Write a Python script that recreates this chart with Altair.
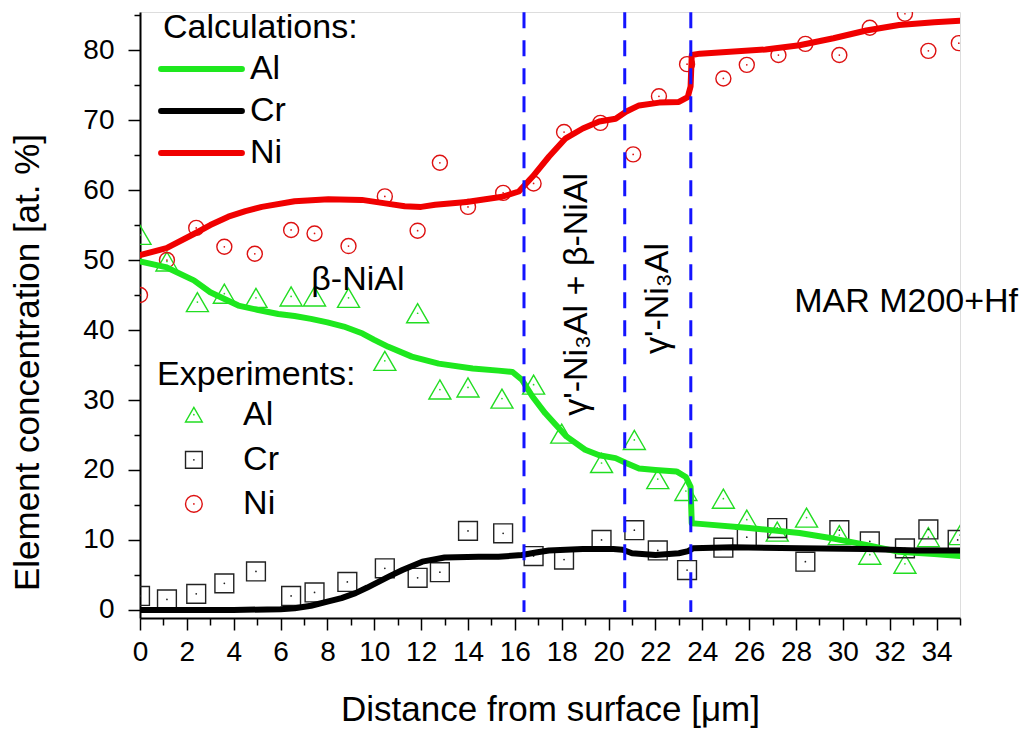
import altair as alt
import pandas as pd

FONT = "Liberation Sans"
elements = ["Al", "Cr", "Ni"]

# ---------------- calculated profiles (lines) ----------------
calc_al_x = [0, 1.1, 2.3, 3.0, 3.7, 4.2, 5.0, 5.9, 6.6, 7.3, 8.0, 8.7, 9.5, 10.0, 10.6, 11.6, 12.75,
             14.2, 15.3, 15.9, 16.3, 16.75, 17.3, 18.2, 19.0, 19.6, 20.3, 20.75, 21.3, 22.0, 22.9,
             23.3, 23.5, 23.55, 23.9, 26.0, 28.15, 29.6, 31.0, 32.4, 33.9, 35.0]
calc_al_y = [49.8, 49.0, 47.1, 45.4, 44.3, 43.5, 42.9, 42.3, 42.0, 41.6, 41.1, 40.5, 39.5, 38.6, 37.6,
             36.2, 35.2, 34.5, 34.2, 34.0, 32.9, 30.5, 28.1, 24.8, 22.9, 22.1, 21.7, 21.0, 20.2, 20.0,
             19.8, 19.0, 17.6, 12.4, 12.3, 11.7, 11.0, 10.2, 9.3, 8.3, 8.0, 7.7]

calc_cr_x = [0, 2, 4, 6, 6.6, 7.3, 8.0, 8.6, 9.2, 9.7, 10.2, 10.7, 11.2, 12.05, 13.0, 14.46, 15.3,
             16.3, 16.9, 17.45, 18.9, 20.2, 20.6, 21.0, 22.0, 23.0, 23.4, 23.6, 25.3, 28.15, 31.0,
             33.15, 35.0]
calc_cr_y = [0, 0, 0, 0.1, 0.25, 0.6, 1.2, 1.7, 2.4, 3.2, 4.05, 4.9, 5.7, 6.9, 7.5, 7.6, 7.6, 7.85,
             8.2, 8.5, 8.7, 8.7, 8.6, 8.1, 7.85, 8.1, 8.4, 8.8, 8.96, 8.8, 8.7, 8.5, 8.5]

calc_ni_x = [0, 1.13, 2.34, 3.0, 3.77, 4.5, 5.2, 6.6, 8.04, 9.47, 10.47, 11.3, 12.0, 12.6, 13.94,
             15.46, 16.17, 16.75, 17.46, 18.17, 18.9, 19.6, 20.3, 20.74, 21.3, 22.16, 23.0, 23.38,
             23.5, 23.55, 23.9, 26.7, 28.15, 29.6, 31.0, 32.4, 33.9, 35.0]
calc_ni_y = [50.7, 51.7, 53.8, 55.0, 56.2, 57.0, 57.6, 58.4, 58.7, 58.6, 58.1, 57.7, 57.6, 57.9,
             58.3, 59.05, 59.8, 61.9, 64.8, 67.4, 68.8, 69.8, 70.2, 71.2, 72.1, 72.5, 72.6, 73.3,
             74.8, 79.3, 79.5, 80.1, 80.7, 81.7, 82.8, 83.6, 84.0, 84.2]

# ---------------- experimental points ----------------
exp_al_x = [0, 1.15, 2.45, 3.6, 4.95, 6.45, 7.45, 8.9, 10.45, 11.85, 12.8, 14.0, 15.45, 16.8, 18.0,
            19.7, 21.1, 22.1, 23.3, 24.9, 25.9, 27.2, 28.45, 29.85, 31.15, 32.65, 33.65, 35.0]
exp_al_y = [53.6, 49.8, 44.0, 45.2, 44.6, 44.8, 44.8, 44.6, 35.6, 42.4, 31.5, 31.8, 30.2, 32.2,
            25.2, 21.0, 24.3, 18.7, 17.0, 15.9, 12.9, 11.2, 13.2, 10.7, 7.9, 6.6, 10.4, 10.7]

exp_cr_x = [0, 1.15, 2.4, 3.6, 4.95, 6.45, 7.45, 8.85, 10.45, 11.85, 12.8, 14.0, 15.5, 16.8, 18.1,
            19.7, 21.1, 22.1, 23.35, 24.9, 25.9, 27.2, 28.4, 29.85, 31.15, 32.65, 33.65, 34.9]
exp_cr_y = [2.0, 1.5, 2.3, 3.8, 5.5, 2.0, 2.5, 4.0, 5.95, 4.6, 5.4, 11.3, 10.95, 7.7, 7.2, 10.0,
            11.4, 8.5, 5.7, 8.9, 10.4, 11.7, 6.9, 11.4, 9.8, 8.8, 11.5, 10.0]

exp_ni_x = [0, 1.15, 2.4, 3.6, 4.9, 6.45, 7.45, 8.9, 10.45, 11.85, 12.8, 14.0, 15.5, 16.8, 18.1,
            19.65, 21.05, 22.15, 23.35, 24.9, 25.9, 27.25, 28.4, 29.85, 31.15, 32.65, 33.65, 34.95]
exp_ni_y = [45.0, 50.0, 54.6, 51.9, 50.9, 54.3, 53.8, 52.0, 59.1, 54.2, 63.9, 57.6, 59.6, 60.95,
            68.3, 69.6, 65.1, 73.4, 78.0, 75.95, 77.9, 79.3, 80.9, 79.3, 83.2, 85.2, 79.9, 81.0]

# phase boundaries (dashed lines)
phase_bounds = [16.39, 20.69, 23.51]

# annotations
annot_h_text = ["β-NiAl", "MAR M200+Hf"]
annot_h_x = [9.3, 32.7]
annot_h_y = [47.1, 44.0]
annot_v_text = ["γ'-Ni₃Al + β-NiAl", "γ'-Ni₃Al"]
annot_v_x = [18.65, 22.1]
annot_v_y = [45.1, 44.5]

# in-plot legend layout (data coordinates)
leg_titles = ["Calculations:", "Experiments:"]
leg_title_x = [0.98, 0.73]
leg_title_y = [83.1, 33.6]
leg_line_x1 = 0.90
leg_line_x2 = 4.35
leg_line_y = [77.3, 71.3, 65.3]
leg_line_label_x = 4.69
leg_sym_x = 2.30
leg_sym_y = [27.9, 21.45, 15.15]
leg_sym_label_x = 4.40

x_major = list(range(0, 36, 2))
x_minor = list(range(1, 36, 2))
y_major = list(range(0, 81, 10))
y_minor = list(range(5, 86, 10))

calc_colors = ["#1ee81e", "#000000", "#f00000"]
exp_colors = ["#22dd22", "#222222", "#dd1111"]
exp_shapes = ["triangle-up", "square", "circle"]
exp_sizes = [484, 225, 324]


def frame(xs, ys, name, col):
    return pd.DataFrame({"x": xs, "y": ys, col: name, "i": list(range(len(xs)))})


calc_df = pd.concat([frame(calc_al_x, calc_al_y, "Al", "calc"),
                     frame(calc_cr_x, calc_cr_y, "Cr", "calc"),
                     frame(calc_ni_x, calc_ni_y, "Ni", "calc")], ignore_index=True)
exp_df = pd.concat([frame(exp_al_x, exp_al_y, "Al", "exp"),
                    frame(exp_cr_x, exp_cr_y, "Cr", "exp"),
                    frame(exp_ni_x, exp_ni_y, "Ni", "exp")], ignore_index=True)
vline_df = pd.DataFrame({"x": phase_bounds})
annot_h_df = pd.DataFrame({"x": annot_h_x, "y": annot_h_y, "t": annot_h_text})
annot_v_df = pd.DataFrame({"x": annot_v_x, "y": annot_v_y, "t": annot_v_text})

leg_title_df = pd.DataFrame({"x": leg_title_x, "y": leg_title_y, "t": leg_titles})
leg_line_df = pd.DataFrame({"x": [leg_line_x1] * 3, "x2": [leg_line_x2] * 3, "y": leg_line_y,
                            "calc": elements})
leg_line_lab_df = pd.DataFrame({"x": [leg_line_label_x] * 3, "y": leg_line_y, "t": elements})
leg_sym_df = pd.DataFrame({"x": [leg_sym_x] * 3, "y": leg_sym_y, "exp": elements})
leg_sym_lab_df = pd.DataFrame({"x": [leg_sym_label_x] * 3, "y": leg_sym_y, "t": elements})
minor_df = pd.DataFrame({"x": [1.0], "y": [5.0]})

x_scale = alt.Scale(domain=[0, 35], nice=False, zero=False)
y_scale = alt.Scale(domain=[-1.15, 85.45], nice=False, zero=False)

axis_common = dict(grid=False, domainColor="black", domainWidth=2, tickColor="black", tickWidth=1.5,
                   labelFont=FONT, labelColor="black", labelFontSize=28,
                   labelOverlap=False, labelFlush=False)

x_axis = alt.Axis(
    values=x_major, tickSize=12, labelPadding=8, orient="bottom",
    title="Distance from surface [μm]", titleFontSize=35, titleFont=FONT,
    titleFontWeight="normal", titleColor="black", titleX=410, titleY=91,
    titleAlign="center", titleBaseline="middle", **axis_common,
)
y_axis = alt.Axis(
    values=y_major, tickSize=12, labelPadding=14, orient="left",
    title="Element concentration [at. %]", titleFontSize=35, titleFont=FONT,
    titleFontWeight="normal", titleColor="black", titleX=-113, titleY=350,
    titleAngle=270, titleAlign="center", titleBaseline="middle", **axis_common,
)
x_axis_minor = alt.Axis(values=x_minor, tickSize=7, labels=False, domain=False, title=None,
                        orient="bottom", grid=False, tickColor="black", tickWidth=1.5)
y_axis_minor = alt.Axis(values=y_minor, tickSize=6, labels=False, domain=False, title=None,
                        orient="left", grid=False, tickColor="black", tickWidth=1.5)

Xn = alt.X("x:Q", scale=x_scale, axis=None)
Yn = alt.Y("y:Q", scale=y_scale, axis=None)

stroke_enc = alt.Stroke("exp:N", scale=alt.Scale(domain=elements, range=exp_colors), legend=None)
shape_enc = alt.Shape("exp:N", scale=alt.Scale(domain=elements, range=exp_shapes), legend=None)
fill_enc = alt.Fill("exp:N", scale=alt.Scale(domain=elements, range=exp_colors), legend=None)
color_enc = alt.Color("calc:N", scale=alt.Scale(domain=elements, range=calc_colors), legend=None)

points = alt.Chart(exp_df).mark_point(filled=False, strokeWidth=1.4, clip=True, opacity=1).encode(
    x=Xn, y=Yn, stroke=stroke_enc, shape=shape_enc,
    size=alt.Size("exp:N", scale=alt.Scale(domain=elements, range=exp_sizes), legend=None),
)

dots = alt.Chart(exp_df).mark_point(filled=True, size=3, shape="circle", clip=True, opacity=1).encode(
    x=Xn, y=Yn, fill=fill_enc,
)

lines = alt.Chart(calc_df).mark_line(strokeWidth=6, clip=True, strokeJoin="round", strokeCap="round").encode(
    x=alt.X("x:Q", scale=x_scale, axis=x_axis),
    y=alt.Y("y:Q", scale=y_scale, axis=y_axis),
    color=color_enc,
    order="i:Q",
)

minor = alt.Chart(minor_df).mark_point(opacity=0).encode(
    x=alt.X("x:Q", scale=x_scale, axis=x_axis_minor),
    y=alt.Y("y:Q", scale=y_scale, axis=y_axis_minor),
)

vlines = alt.Chart(vline_df).mark_rule(color="#1414ff", strokeWidth=3, strokeDash=[16, 12]).encode(
    x=Xn, y=alt.YDatum(85.4, axis=None), y2=alt.Y2Datum(-0.3),
)

text_h = alt.Chart(annot_h_df).mark_text(fontSize=34, font=FONT, color="black",
                                         align="center", baseline="middle").encode(
    x=Xn, y=Yn, text="t:N")

text_v = alt.Chart(annot_v_df).mark_text(fontSize=34, font=FONT, color="black", angle=270,
                                         align="center", baseline="middle").encode(
    x=Xn, y=Yn, text="t:N")

leg_titles_l = alt.Chart(leg_title_df).mark_text(fontSize=34, font=FONT, color="black",
                                                 align="left", baseline="middle").encode(
    x=Xn, y=Yn, text="t:N")
leg_lines_l = alt.Chart(leg_line_df).mark_rule(strokeWidth=6, strokeCap="round").encode(
    x=Xn, x2="x2:Q", y=Yn, color=color_enc)
leg_line_lab_l = alt.Chart(leg_line_lab_df).mark_text(fontSize=34, font=FONT, color="black",
                                                      align="left", baseline="middle").encode(
    x=Xn, y=Yn, text="t:N")
leg_sym_l = alt.Chart(leg_sym_df).mark_point(filled=False, strokeWidth=1.4, size=280, opacity=1).encode(
    x=Xn, y=Yn, stroke=stroke_enc, shape=shape_enc)
leg_sym_dot_l = alt.Chart(leg_sym_df).mark_point(filled=True, size=3, shape="circle", opacity=1).encode(
    x=Xn, y=Yn, fill=fill_enc)
leg_sym_lab_l = alt.Chart(leg_sym_lab_df).mark_text(fontSize=34, font=FONT, color="black",
                                                    align="left", baseline="middle").encode(
    x=Xn, y=Yn, text="t:N")

chart = alt.layer(
    points, dots, lines, minor, vlines, text_h, text_v,
    leg_titles_l, leg_lines_l, leg_line_lab_l, leg_sym_l, leg_sym_dot_l, leg_sym_lab_l,
).resolve_axis(x="independent", y="independent").properties(
    width=820, height=606,
    autosize=alt.AutoSizeParams(type="none"),
    padding={"left": 132, "top": 4, "right": 61, "bottom": 112},
    background="white",
).configure_view(stroke=None).configure(font=FONT)

chart.save("out.html", embed_options={"renderer": "svg", "actions": False})
